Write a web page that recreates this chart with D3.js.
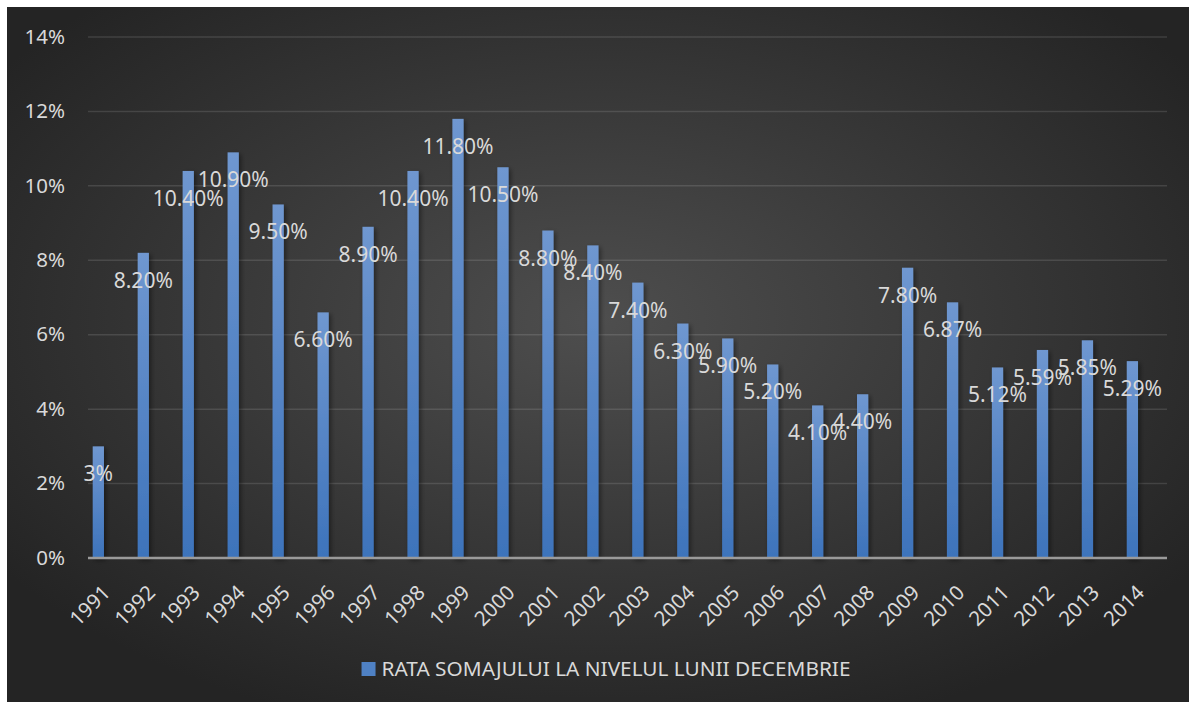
<!DOCTYPE html>
<html>
<head>
<meta charset="utf-8">
<script src="https://cdn.jsdelivr.net/npm/d3@7"></script>
<style>
  html, body { margin: 0; padding: 0; background: #ffffff; }
  svg { display: block; }
  text { font-family: "Noto Sans", "Open Sans", sans-serif; }
</style>
</head>
<body>
<svg id="chart" width="1189" height="702"></svg>
<script>
// ---- data ----
const years = ["1991","1992","1993","1994","1995","1996","1997","1998","1999","2000","2001","2002","2003","2004","2005","2006","2007","2008","2009","2010","2011","2012","2013","2014"];
const rates = [3, 8.2, 10.4, 10.9, 9.5, 6.6, 8.9, 10.4, 11.8, 10.5, 8.8, 8.4, 7.4, 6.3, 5.9, 5.2, 4.1, 4.4, 7.8, 6.87, 5.12, 5.59, 5.85, 5.29];
const rateLabels = ["3%","8.20%","10.40%","10.90%","9.50%","6.60%","8.90%","10.40%","11.80%","10.50%","8.80%","8.40%","7.40%","6.30%","5.90%","5.20%","4.10%","4.40%","7.80%","6.87%","5.12%","5.59%","5.85%","5.29%"];
const yTicks = [0, 2, 4, 6, 8, 10, 12, 14];
const seriesName = "RATA SOMAJULUI LA NIVELUL LUNII DECEMBRIE";

// ---- layout ----
const W = 1189, H = 702;
const plot = { left: 88, right: 1167, top: 37, bottom: 558 };

const svg = d3.select("#chart");
const defs = svg.append("defs");

const bg = defs.append("radialGradient").attr("id", "bgGrad")
  .attr("cx", "50%").attr("cy", "45%").attr("r", "62%");
bg.append("stop").attr("offset", "0%").attr("stop-color", "#4e4e4e");
bg.append("stop").attr("offset", "100%").attr("stop-color", "#242424");

const barGrad = defs.append("linearGradient").attr("id", "barGrad")
  .attr("x1", 0).attr("y1", 0).attr("x2", 0).attr("y2", 1);
barGrad.append("stop").attr("offset", "0%").attr("stop-color", "#6f97d0");
barGrad.append("stop").attr("offset", "100%").attr("stop-color", "#3d73bb");

const shadow = defs.append("filter").attr("id", "barShadow")
  .attr("x", "-50%").attr("y", "-10%").attr("width", "200%").attr("height", "120%");
shadow.append("feDropShadow").attr("dx", 2).attr("dy", 2).attr("stdDeviation", 2.5)
  .attr("flood-color", "#000").attr("flood-opacity", 0.45);

// background box
svg.append("rect").attr("x", 7).attr("y", 7).attr("width", W - 7).attr("height", H - 7)
  .attr("fill", "url(#bgGrad)");

// ---- scales ----
const x = d3.scaleBand().domain(years).range([plot.left, plot.right]).paddingInner(0).paddingOuter(0);
const y = d3.scaleLinear().domain([0, 14]).range([plot.bottom, plot.top]);

// gridlines
svg.append("g").selectAll("line").data(yTicks.filter(d => d > 0)).join("line")
  .attr("x1", plot.left).attr("x2", plot.right)
  .attr("y1", d => y(d)).attr("y2", d => y(d))
  .attr("stroke", "#ffffff").attr("stroke-opacity", 0.12).attr("stroke-width", 1.5);

// y-axis labels
const yAxis = d3.axisLeft(y).tickValues(yTicks).tickFormat(d => d + "%").tickSize(0).tickPadding(0);
const yg = svg.append("g").attr("transform", `translate(${plot.left - 23},0)`).call(yAxis);
yg.select(".domain").remove();
yg.selectAll("text").attr("fill", "#d9d9d9").attr("font-size", 20.5)
  .attr("font-family", "'Noto Sans', sans-serif").attr("dy", "0.3em");

// bars
const bw = x.bandwidth();
const barW = bw * 0.25;
const barOff = bw * 0.105;
svg.append("g").selectAll("rect").data(years).join("rect")
  .attr("x", (d) => x(d) + barOff)
  .attr("y", (d, i) => y(rates[i]))
  .attr("width", barW)
  .attr("height", (d, i) => y(0) - y(rates[i]))
  .attr("fill", "url(#barGrad)")
  .attr("filter", "url(#barShadow)");

// x axis line
svg.append("line").attr("x1", plot.left).attr("x2", plot.right)
  .attr("y1", plot.bottom).attr("y2", plot.bottom)
  .attr("stroke", "#9a9a9a").attr("stroke-width", 2.5);

// x tick labels (rotated)
svg.append("g").selectAll("text").data(years).join("text")
  .attr("transform", d => `translate(${x(d) + bw / 2 + 1},${plot.bottom + 36}) rotate(-45)`)
  .attr("text-anchor", "end")
  .attr("fill", "#d9d9d9").attr("font-size", 20.5)
  .text(d => d);

// data labels
svg.append("g").selectAll("text").data(years).join("text")
  .attr("x", d => x(d) + barOff + barW / 2)
  .attr("y", (d, i) => y(rates[i]) + 35)
  .attr("text-anchor", "middle")
  .attr("fill", "#d9d9d9").attr("font-size", 21)
  .text((d, i) => rateLabels[i]);

// legend
const lg = svg.append("g");
const lt = lg.append("text").attr("x", 0).attr("y", 676)
  .attr("fill", "#d9d9d9").attr("font-size", 20.8).text(seriesName);
const tw = lt.node().getComputedTextLength();
const total = 14 + 6 + tw;
const lx = 606 - total / 2;
lg.append("rect").attr("x", lx).attr("y", 662).attr("width", 14).attr("height", 14)
  .attr("fill", "#4f81c4");
lt.attr("x", lx + 20);
</script>
</body>
</html>
